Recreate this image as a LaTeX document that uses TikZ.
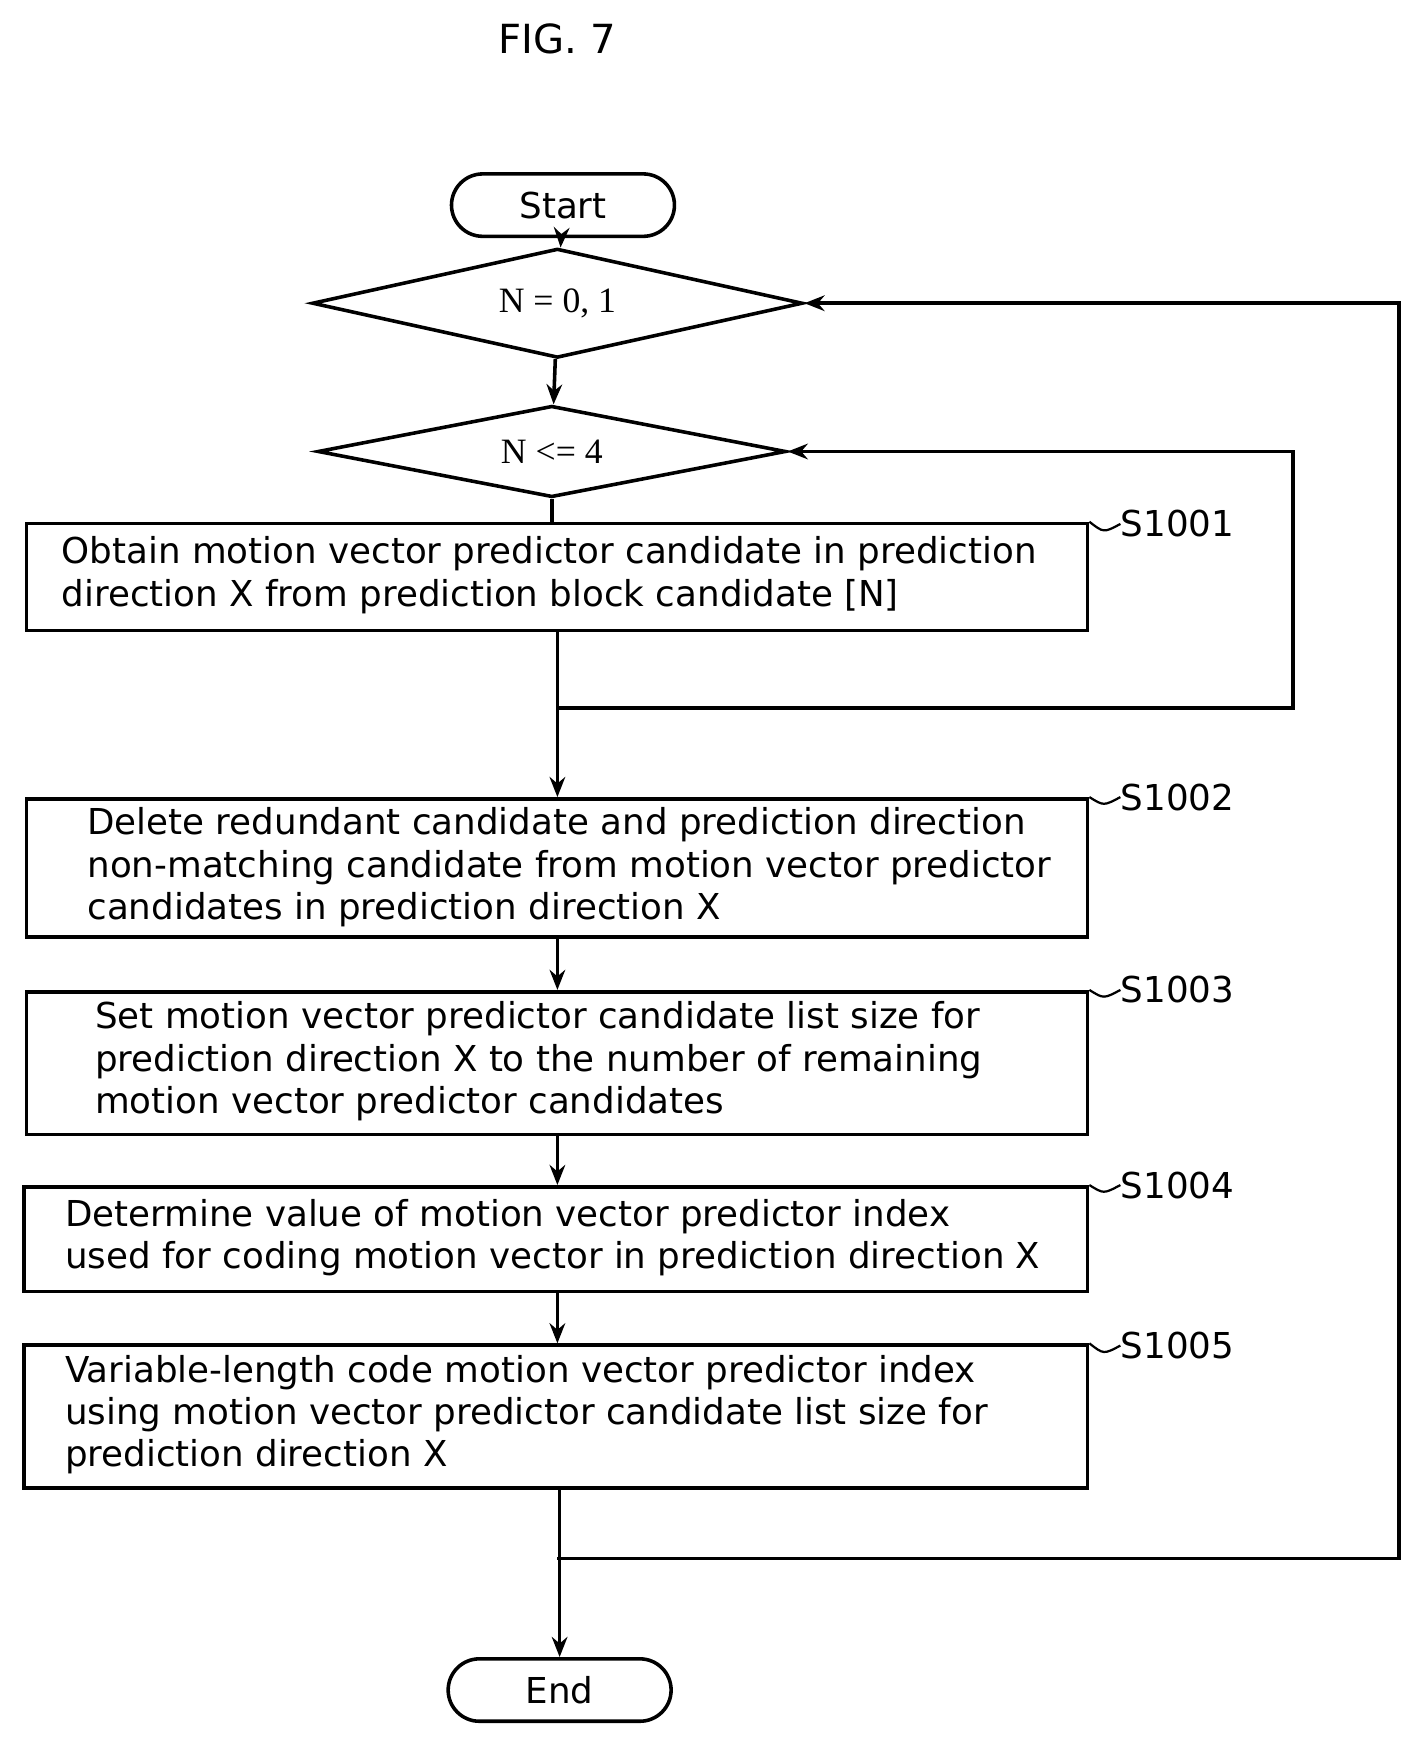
\documentclass[tikz,border=0pt]{standalone}
\usepackage{fontspec}
\setmainfont{DejaVu Sans}
\newfontfamily\serif{Liberation Serif}
\usetikzlibrary{shapes.geometric,arrows.meta}
\begin{document}
\begin{tikzpicture}[x=0.5pt,y=-0.5pt,
  every node/.style={font=\fontsize{16}{19}\selectfont},
  box/.style={draw,line width=1.6pt,rectangle,anchor=north west,inner sep=0},
  txt/.style={anchor=west,align=left,inner sep=0},
  term/.style={draw,line width=1.6pt,rounded corners=14pt,minimum width=100pt,minimum height=28pt},
  dia/.style={draw,line width=1.6pt,diamond,minimum width=220pt,minimum height=49pt,inner sep=0,aspect=4.5,font=\serif\fontsize{16}{19}\selectfont},
  lab/.style={anchor=west,inner sep=0},
  ln/.style={line width=1.6pt},
  arr/.style={ln,-{Stealth[length=9pt,width=7pt,open]}}]
\useasboundingbox (0,0) rectangle (1280,1568);
\node[font=\fontsize{18}{20}\selectfont] (title) at (500,35) {FIG. 7};
\node[term] (start) at (505,184) {Start};
\node[dia] (d1) at (500,272) {N = 0, 1};
\node[dia,minimum width=210pt,minimum height=41pt] (d2) at (495,405) {N <= 4};
\node[box,minimum width=476pt,minimum height=48pt] (b1) at (22,468) {};
\node[txt] (t1) at (55,516) {Obtain motion vector predictor candidate in prediction\\direction X from prediction block candidate [N]};
\node[box,minimum width=476pt,minimum height=62pt] (b2) at (22,715) {};
\node[txt] (t2) at (78,778) {Delete redundant candidate and prediction direction\\non-matching candidate from motion vector predictor\\candidates in prediction direction X};
\node[box,minimum width=476pt,minimum height=64pt] (b3) at (22,888) {};
\node[txt] (t3) at (85,952) {Set motion vector predictor candidate list size for\\prediction direction X to the number of remaining\\motion vector predictor candidates};
\node[box,minimum width=477pt,minimum height=47pt] (b4) at (20,1063) {};
\node[txt] (t4) at (58,1110) {Determine value of motion vector predictor index\\used for coding motion vector in prediction direction X};
\node[box,minimum width=477pt,minimum height=64pt] (b5) at (20,1205) {};
\node[txt] (t5) at (58,1269) {Variable-length code motion vector predictor index\\using motion vector predictor candidate list size for\\prediction direction X};
\node[term] (end) at (502,1516) {End};
\foreach \b/\y/\s in {b1/470/S1001,b2/715/S1002,b3/888/S1003,b4/1063/S1004,b5/1207/S1005}{
  \node[lab] (l\s) at (1005,\y) {\s};
  \draw[line width=1pt] (\b.north east) .. controls (990,\y+8) .. (l\s.west);
}
\coordinate (j1) at (500,635);
\coordinate (j2) at (500,1398);
\draw[arr] (start) -- (d1);
\draw[arr] (d1) -- (d2);
\draw[ln] (d2) -- (b1.north -| d2);
\draw[ln] (b1.south -| j1) -- (j1);
\draw[arr] (j1) -- (b2.north -| j1);
\draw[arr] (j1) -- (1160,635) |- (d2.east);
\draw[arr] (b2.south -| j1) -- (b3.north -| j1);
\draw[arr] (b3.south -| j1) -- (b4.north -| j1);
\draw[arr] (b4.south -| j1) -- (b5.north -| j1);
\draw[arr] (b5.south -| end) -- (end);
\draw[arr] (j2) -- (1255,1398) |- (d1.east);
\end{tikzpicture}
\end{document}
